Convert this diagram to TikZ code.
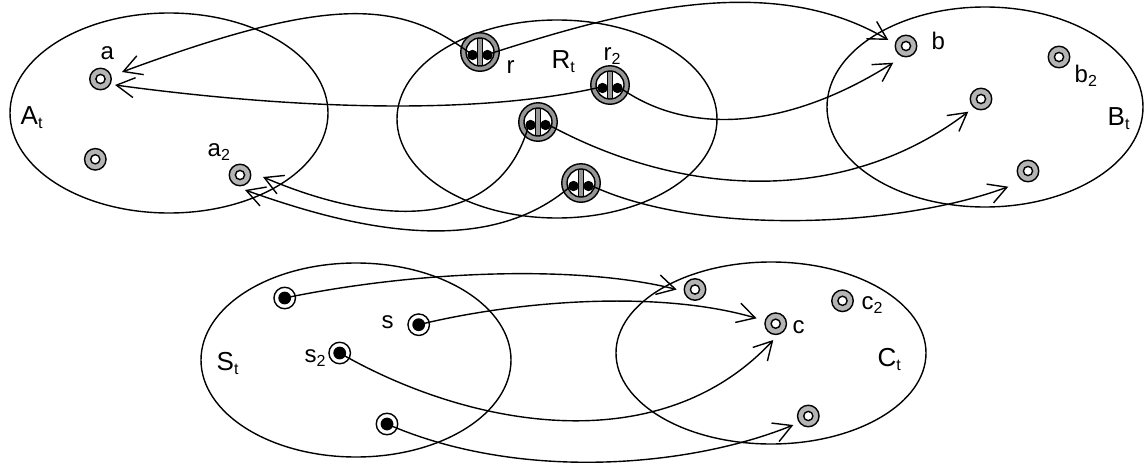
\documentclass[tikz,border=0pt]{standalone}
\usepackage{fontspec}
\setmainfont{Liberation Sans}
\usetikzlibrary{arrows.meta,calc}
\definecolor{lgray}{RGB}{180,180,180}
\definecolor{rgray}{RGB}{150,150,150}
\newcommand{\tsub}[1]{\raisebox{-4pt}{\fontsize{16}{16}\selectfont #1}}
\begin{document}
\begin{tikzpicture}[x=1pt,y=-1pt,line width=1.4pt,
  gnode/.style={circle,draw,fill=lgray,minimum size=21.5pt,inner sep=0pt,
    path picture={\draw[fill=white,line width=1.4pt] (path picture bounding box.center) circle (4.6pt);}},
  snode/.style={circle,draw,fill=white,minimum size=21.5pt,inner sep=0pt,
    path picture={\fill[black] (path picture bounding box.center) circle (6.4pt);}},
  rnode/.style={circle,draw,fill=rgray,minimum size=38.5pt,inner sep=0pt,
    path picture={
      \begin{scope}[shift={(path picture bounding box.center)}]
        \fill[white] (0pt,0pt) circle (14pt);
        \begin{scope}
          \clip (0pt,0pt) circle (14pt);
          \draw[fill=rgray,line width=1.1pt] (-2.2pt,-16pt) rectangle (2.2pt,16pt);
        \end{scope}
        \draw[line width=1.4pt] (0pt,0pt) circle (14pt);
        \fill[black] (-7.5pt,-3pt) circle (5.2pt);
        \fill[black] (7.5pt,-3pt) circle (5.2pt);
      \end{scope}}},
  lbl/.style={inner sep=0pt,anchor=base west,font=\fontsize{24}{24}\selectfont},
  setlbl/.style={inner sep=0pt,anchor=base west,font=\fontsize{26}{26}\selectfont},
  arr/.style={-{Straight Barb[length=18pt,width=20pt]}}
]
\useasboundingbox (0,0) rectangle (1144,466);

% set ellipses
\draw (169,113) ellipse [x radius=159pt, y radius=100pt];
\draw (557,119) ellipse [x radius=160pt, y radius=99pt];
\draw (985,107) ellipse [x radius=158pt, y radius=100pt];
\draw (356,360) ellipse [x radius=155pt, y radius=97pt];
\draw (771,353) ellipse [x radius=155pt, y radius=91pt];

% A nodes
\node[gnode] (a) at (100.5,79) {};
\node[gnode] (a3) at (95.3,159.3) {};
\node[gnode] (a2) at (240,175) {};
% R nodes
\node[rnode] (r) at (480,52) {};
\node[rnode] (r2) at (610,85) {};
\node[rnode] (r3) at (538,122) {};
\node[rnode] (r4) at (581,183) {};
% B nodes
\node[gnode] (b) at (906,46) {};
\node[gnode] (b2) at (1059,57) {};
\node[gnode] (b3) at (981,99) {};
\node[gnode] (b4) at (1028,171) {};
% S nodes
\node[snode] (s1) at (284.7,298) {};
\node[snode] (s) at (418.7,324.7) {};
\node[snode] (s2) at (339.7,353) {};
\node[snode] (s4) at (387,424) {};
% C nodes
\node[gnode] (c1) at (695,289.5) {};
\node[gnode] (c) at (775.7,323.7) {};
\node[gnode] (c2) at (842.5,300.8) {};
\node[gnode] (c4) at (808.3,416) {};

% labels
\node[lbl] (la) at (100,59) {a};
\node[lbl] (la2) at (207,156) {a\tsub{2}};
\node[setlbl] (lA) at (20,124) {A\tsub{t}};
\node[setlbl] (lR) at (551,68) {R\tsub{t}};
\node[lbl] (lr) at (506,73) {r};
\node[lbl] (lr2) at (603,60) {r\tsub{2}};
\node[lbl] (lb) at (931,49) {b};
\node[lbl] (lb2) at (1074,82) {b\tsub{2}};
\node[setlbl] (lB) at (1107,125) {B\tsub{t}};
\node[setlbl] (lS) at (216,370) {S\tsub{t}};
\node[lbl] (ls) at (381,328) {s};
\node[lbl] (ls2) at (304,362) {s\tsub{2}};
\node[setlbl] (lC) at (877,366) {C\tsub{t}};
\node[lbl] (lc) at (792,333) {c};
\node[lbl] (lc2) at (861,309) {c\tsub{2}};

% R -> A and R -> B
\draw[arr] ($(r)+(-9,2)$) .. controls (400,0) and (330,-5) .. ($(a)+(21.5,-7)$);
\draw[arr] ($(r)+(9,2)$) .. controls (620,12) and (770,-30) .. ($(b)+(-17.7,-6)$);
\draw[arr] ($(r2)+(-9,2)$) .. controls (480,115) and (300,110) .. ($(a)+(14.5,6)$);
\draw[arr] ($(r2)+(9,2)$) .. controls (690,138) and (790,128) .. ($(b)+(-12.7,16.7)$);
\draw[arr] ($(r3)+(-9,2)$) .. controls (500,232) and (380,227) .. ($(a2)+(23,2)$);
\draw[arr] ($(r3)+(9,2)$) .. controls (690,202) and (850,202) .. ($(b3)+(-12.7,12.7)$);
\draw[arr] ($(r4)+(-9,2)$) .. controls (480,267) and (330,220) .. ($(a2)+(5,15)$);
\draw[arr] ($(r4)+(9,2)$) .. controls (700,237) and (900,227) .. ($(b4)+(-19.7,15.7)$);

% S -> C
\draw[arr] (s1.center) .. controls (420,270) and (580,265) .. ($(c1)+(-18.3,0)$);
\draw[arr] (s.center) .. controls (520,300) and (660,290) .. ($(c)+(-19,-5.4)$);
\draw[arr] (s2.center) .. controls (470,428) and (660,462) .. ($(c)+(-2.4,16.3)$);
\draw[arr] (s4.center) .. controls (520,482) and (690,467) .. ($(c4)+(-15,9)$);
\end{tikzpicture}
\end{document}
